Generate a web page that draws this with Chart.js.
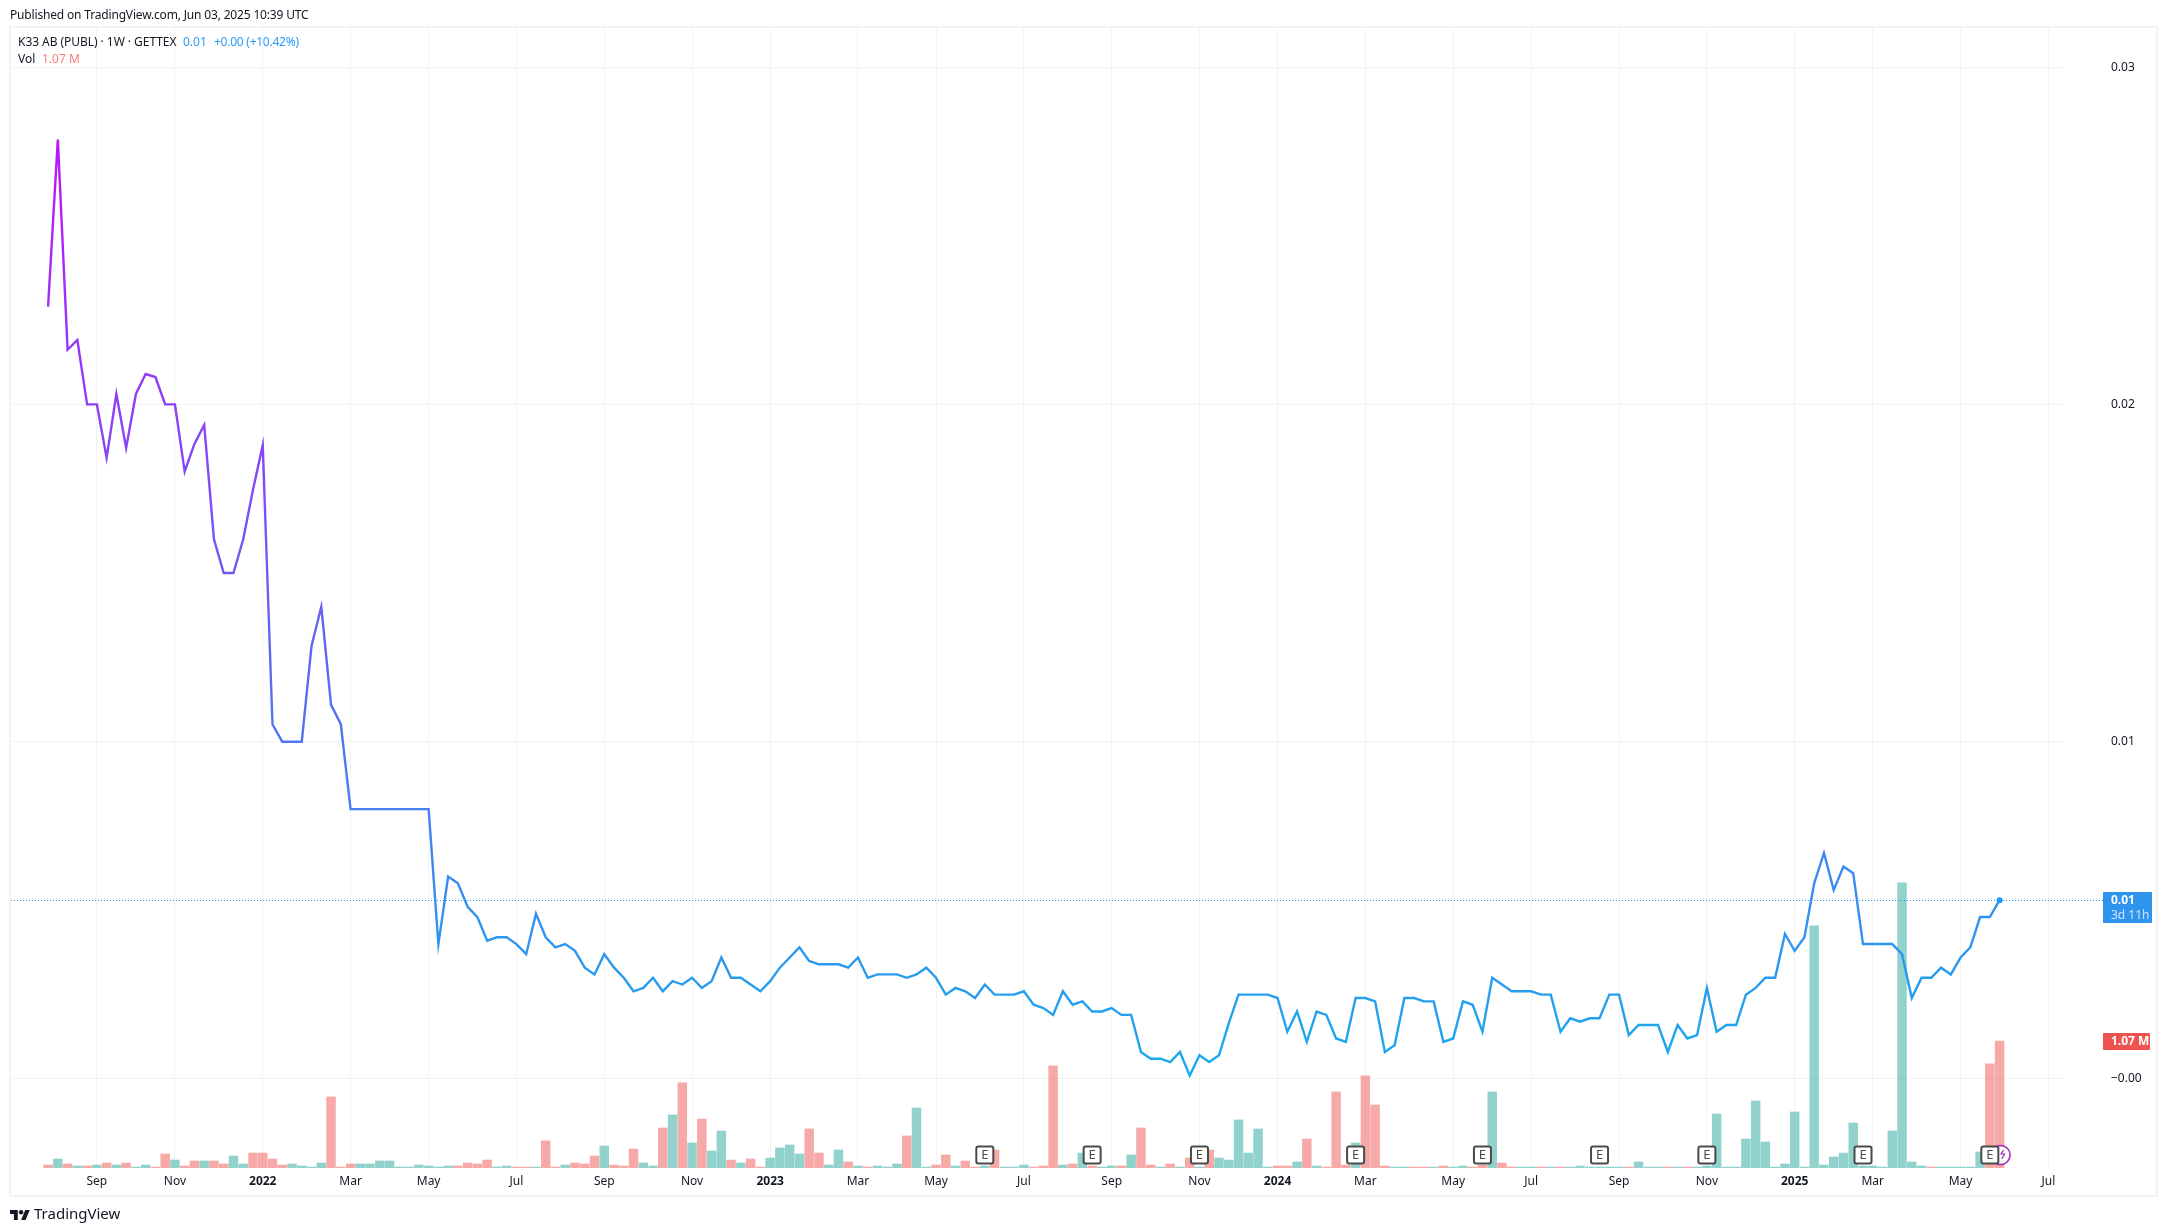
<!DOCTYPE html>
<html>
<head>
<meta charset="utf-8">
<title>K33 AB (PUBL)</title>
<script src="https://cdn.jsdelivr.net/npm/chart.js@4"></script>
<style>
  html, body { margin: 0; padding: 0; background: #fff; width: 2166px; height: 1231px; overflow: hidden; }
  body { position: relative; font-family: "Noto Sans", sans-serif; color: #131722; }
  canvas { position: absolute; left: 0; top: 0; }
  .frame { position: absolute; left: 9px; top: 26px; width: 2145px; height: 1167px; border: 2px solid #f3f3f3; }
  .txt { position: absolute; white-space: pre; font-size: 12px; line-height: 16px; }
  .blue { color: #2e9bf5; }
  .red { color: #f77c80; }
  .logo { position: absolute; left: 10px; top: 1207px; width: 20px; height: 14px; }
</style>
</head>
<body>
<div class="frame"></div>
<canvas id="main-graph" width="2166" height="1231"></canvas>
<div class="txt" style="left:10px;top:7px;letter-spacing:-0.17px">Published on TradingView.com, Jun 03, 2025 10:39 UTC</div>
<div class="txt" style="left:18px;top:34px;letter-spacing:-0.05px">K33 AB (PUBL) · 1W · GETTEX</div>
<div class="txt blue" style="left:183px;top:34px">0.01</div>
<div class="txt blue" style="left:214px;top:34px;letter-spacing:-0.25px">+0.00 (+10.42%)</div>
<div class="txt" style="left:18px;top:51px">Vol</div>
<div class="txt red" style="left:42px;top:51px">1.07 M</div>
<svg class="logo" viewBox="0 0 36 22"><path fill="#131722" d="M14 22H7V11H0V4h14v18zM28 22h-8l7.5-18h8L28 22z"/><circle fill="#131722" cx="20" cy="8" r="4"/></svg>
<div class="txt" style="left:34px;top:1204px;font-size:15px;line-height:18px">TradingView</div>
<script>
// weekly closes, Aug 2021 -> Jun 2025
const price = [
  0.0229, 0.02785, 0.02162, 0.02191, 0.0200, 0.0200, 0.01842, 0.02031, 0.01871, 0.02031,
  0.0209, 0.02081, 0.0200, 0.0200, 0.01801, 0.01883, 0.01939, 0.0160, 0.0150, 0.0150,
  0.0160, 0.01747, 0.01879, 0.01051, 0.0100, 0.0100, 0.0100, 0.01284, 0.0140, 0.01109,
  0.01052, 0.0080, 0.0080, 0.0080, 0.0080, 0.0080, 0.0080, 0.0080, 0.0080, 0.0080,
  0.0040, 0.0060, 0.0058, 0.0051, 0.0048, 0.0041, 0.0042, 0.0042, 0.0040, 0.0037,
  0.0049, 0.0042, 0.0039, 0.0040, 0.0038, 0.0033, 0.0031, 0.0037, 0.0033, 0.0030,
  0.0026, 0.0027, 0.0030, 0.0026, 0.0029, 0.0028, 0.0030, 0.0027, 0.0029, 0.0036,
  0.0030, 0.0030, 0.0028, 0.0026, 0.0029, 0.0033, 0.0036, 0.0039, 0.0035, 0.0034,
  0.0034, 0.0034, 0.0033, 0.0036, 0.0030, 0.0031, 0.0031, 0.0031, 0.0030, 0.0031,
  0.0033, 0.0030, 0.0025, 0.0027, 0.0026, 0.0024, 0.0028, 0.0025, 0.0025, 0.0025,
  0.0026, 0.0022, 0.0021, 0.0019, 0.0026, 0.0022, 0.0023, 0.0020, 0.0020, 0.0021,
  0.0019, 0.0019, 0.0008, 0.0006, 0.0006, 0.0005, 0.0008, 0.0001, 0.0007, 0.0005,
  0.0007, 0.00165, 0.0025, 0.0025, 0.0025, 0.0025, 0.0024, 0.0014, 0.0020, 0.0011,
  0.0020, 0.0019, 0.0012, 0.0011, 0.0024, 0.0024, 0.0023, 0.0008, 0.0010, 0.0024,
  0.0024, 0.0023, 0.0023, 0.0011, 0.0012, 0.0023, 0.0022, 0.0014, 0.0030, 0.0028,
  0.0026, 0.0026, 0.0026, 0.0025, 0.0025, 0.0014, 0.0018, 0.0017, 0.0018, 0.0018,
  0.0025, 0.0025, 0.0013, 0.0016, 0.0016, 0.0016, 0.0008, 0.0016, 0.0012, 0.0013,
  0.0027, 0.0014, 0.0016, 0.0016, 0.0025, 0.0027, 0.0030, 0.0030, 0.0043, 0.0038,
  0.0042, 0.0058, 0.0067, 0.0056, 0.0063, 0.0061, 0.0040, 0.0040, 0.0040, 0.0040,
  0.0037, 0.0024, 0.0030, 0.0030, 0.0033, 0.0031, 0.0036, 0.0039, 0.0048, 0.0048,
  0.0053
];

// volume in thousands
const volume = [
  25, 76, 34, 17, 17, 25, 42, 25, 42, 8,
  25, 8, 118, 67, 17, 59, 59, 59, 34, 101,
  34, 126, 126, 76, 25, 34, 17, 8, 42, 599,
  8, 34, 34, 34, 59, 59, 8, 8, 25, 17,
  8, 17, 17, 42, 34, 67, 8, 17, 8, 8,
  8, 228, 8, 25, 42, 34, 101, 185, 25, 17,
  160, 42, 17, 337, 447, 717, 211, 413, 143, 312,
  67, 42, 76, 8, 84, 169, 194, 118, 329, 126,
  25, 152, 51, 17, 8, 17, 8, 34, 270, 506,
  8, 25, 110, 17, 59, 8, 17, 152, 8, 8,
  25, 8, 17, 860, 25, 34, 126, 17, 8, 17,
  17, 110, 337, 25, 8, 34, 8, 84, 8, 152,
  84, 67, 405, 126, 329, 8, 17, 17, 51, 244,
  17, 8, 641, 25, 211, 776, 531, 17, 8, 8,
  8, 8, 8, 17, 8, 17, 8, 25, 641, 42,
  8, 8, 8, 8, 8, 8, 8, 17, 8, 8,
  8, 8, 8, 51, 8, 8, 8, 8, 8, 8,
  17, 455, 8, 8, 244, 565, 219, 8, 34, 472,
  8, 2040, 25, 93, 126, 379, 17, 17, 8, 312,
  2403, 51, 17, 8, 8, 8, 8, 8, 135, 877,
  1070
];

// 1 = green bar, 0 = red bar
const volumeUp = [
  0, 1, 0, 1, 0, 1, 0, 1, 0, 1,
  1, 0, 0, 1, 0, 0, 1, 0, 0, 1,
  1, 0, 0, 0, 0, 1, 1, 1, 1, 0,
  0, 0, 1, 1, 1, 1, 1, 1, 1, 1,
  1, 1, 0, 0, 0, 0, 1, 1, 0, 0,
  1, 0, 0, 1, 0, 0, 0, 1, 0, 0,
  0, 1, 1, 0, 1, 0, 1, 0, 1, 1,
  0, 1, 0, 0, 1, 1, 1, 1, 0, 0,
  1, 1, 0, 1, 0, 1, 1, 1, 0, 1,
  1, 0, 0, 1, 0, 0, 1, 0, 1, 1,
  1, 0, 0, 0, 1, 0, 1, 0, 1, 1,
  0, 1, 0, 0, 1, 0, 1, 0, 1, 0,
  1, 1, 1, 1, 1, 1, 0, 0, 1, 0,
  1, 0, 0, 0, 1, 0, 0, 0, 1, 1,
  0, 0, 1, 0, 1, 1, 0, 0, 1, 0,
  0, 1, 1, 0, 1, 0, 1, 1, 1, 1,
  1, 1, 0, 1, 1, 1, 0, 1, 0, 1,
  1, 1, 1, 1, 1, 1, 1, 1, 1, 1,
  1, 1, 1, 1, 1, 1, 1, 1, 1, 1,
  1, 1, 1, 0, 1, 1, 1, 1, 1, 0,
  0
];

// x axis: week number of the first bar of a month
const tickWeeks = [5, 13, 22, 31, 39, 48, 57, 66, 74, 83, 91, 100, 109, 118, 126, 135, 144, 152, 161, 170, 179, 187, 196, 205];
const tickLabels = ["Sep", "Nov", "2022", "Mar", "May", "Jul", "Sep", "Nov", "2023", "Mar", "May", "Jul", "Sep", "Nov", "2024", "Mar", "May", "Jul", "Sep", "Nov", "2025", "Mar", "May", "Jul"];
const priceTicks = [0, 0.01, 0.02, 0.03];
const priceTickLabels = ["−0.00", "0.01", "0.02", "0.03"];
const earningsWeeks = [96, 107, 118, 134, 147, 159, 170, 186, 199];

const FONT = "Noto Sans";
const GRID = "#f3f3f3";
const lastIdx = price.length - 1;

// countdown / price badges, dotted last price line and the E flags
const overlays = {
  id: "overlays",
  afterDatasetsDraw(chart) {
    const { ctx, chartArea, scales } = chart;
    const yLast = Math.round(scales.y.getPixelForValue(price[lastIdx])) + 0.5;
    const yVolLast = scales.yVol.getPixelForValue(volume[lastIdx]);
    const badgeX = chartArea.right + 39;
    ctx.save();

    // last price line
    ctx.strokeStyle = "#2196f3";
    ctx.lineWidth = 1;
    ctx.setLineDash([1, 2]);
    ctx.beginPath();
    ctx.moveTo(chartArea.left, yLast);
    ctx.lineTo(badgeX, yLast);
    ctx.stroke();
    ctx.setLineDash([]);

    // split marker sits under the last E
    const xEnd = scales.x.getPixelForValue(lastIdx);
    const yFlag = chartArea.bottom - 13;
    ctx.strokeStyle = "#9c27b0";
    ctx.lineWidth = 1.5;
    ctx.fillStyle = "#fff";
    ctx.beginPath();
    ctx.arc(xEnd + 1, yFlag, 9.5, 0, Math.PI * 2);
    ctx.fill();
    ctx.stroke();
    ctx.lineWidth = 1.2;
    ctx.beginPath();
    ctx.moveTo(xEnd + 4, yFlag - 5);
    ctx.lineTo(xEnd + 1.5, yFlag - 1);
    ctx.lineTo(xEnd + 5, yFlag - 1);
    ctx.lineTo(xEnd + 2, yFlag + 4);
    ctx.stroke();

    // earnings flags
    ctx.textAlign = "center";
    ctx.textBaseline = "middle";
    earningsWeeks.forEach((w) => {
      const x = scales.x.getPixelForValue(w);
      ctx.fillStyle = "#fff";
      ctx.strokeStyle = "#4a4a4a";
      ctx.lineWidth = 2;
      ctx.beginPath();
      ctx.roundRect(x - 8.5, yFlag - 8.5, 17, 17, 2);
      ctx.fill();
      ctx.stroke();
      ctx.fillStyle = "#4a4a4a";
      ctx.font = `13px ${FONT}`;
      ctx.fillText("E", x, yFlag + 0.5);
    });

    // price badge
    ctx.fillStyle = "#2f94ee";
    ctx.beginPath();
    ctx.roundRect(badgeX, yLast - 8.5, 49, 31, 1);
    ctx.fill();
    ctx.textAlign = "left";
    ctx.fillStyle = "#fff";
    ctx.font = `bold 12px ${FONT}`;
    ctx.fillText("0.01", badgeX + 8, yLast);
    ctx.fillStyle = "#cfe5fb";
    ctx.font = `12px ${FONT}`;
    ctx.fillText("3d 11h", badgeX + 8, yLast + 15);

    // volume badge
    ctx.fillStyle = "#ef5350";
    ctx.beginPath();
    ctx.roundRect(badgeX, yVolLast - 8, 47, 17, 1);
    ctx.fill();
    ctx.fillStyle = "#fff";
    ctx.font = `bold 12px ${FONT}`;
    ctx.fillText("1.07 M", badgeX + 8, yVolLast + 0.5);
    ctx.restore();
  }
};

function lineGradient(context) {
  const { chart } = context;
  if (!chart.chartArea) return "#2196f3";
  const y = chart.scales.y;
  const g = chart.ctx.createLinearGradient(0, y.getPixelForValue(Math.max(...price)), 0, y.getPixelForValue(Math.min(...price)));
  g.addColorStop(0, "#bc14fb");
  g.addColorStop(1, "#17abed");
  return g;
}

const chart = new Chart(document.getElementById("main-graph"), {
  data: {
    datasets: [
      {
        type: "line",
        data: price.map((v, i) => ({ x: i, y: v })),
        yAxisID: "y",
        borderColor: lineGradient,
        borderWidth: 2.4,
        tension: 0,
        fill: false,
        pointRadius: (c) => (c.dataIndex === lastIdx ? 3 : 0),
        pointBackgroundColor: "#2196f3",
        pointBorderWidth: 0,
        order: 0,
      },
      {
        type: "bar",
        data: volume.map((v, i) => ({ x: i, y: v })),
        yAxisID: "yVol",
        backgroundColor: volumeUp.map((u) => (u ? "rgba(38,166,154,0.5)" : "rgba(239,83,80,0.5)")),
        barThickness: 8.8,
        order: 1,
      },
    ],
  },
  plugins: [overlays],
  options: {
    responsive: false,
    animation: false,
    layout: { padding: { left: 11, top: 28, right: 0, bottom: 0 } },
    plugins: { legend: { display: false }, tooltip: { enabled: false } },
    scales: {
      x: {
        type: "linear",
        offset: false,
        min: -3.8,
        max: 206.6,
        grid: { color: GRID, drawTicks: false, lineWidth: 1, offset: false },
        border: { display: false },
        afterBuildTicks: (s) => { s.ticks = tickWeeks.map((v) => ({ value: v })); },
        afterFit: (s) => { s.height = 63; s.paddingLeft = 0; s.paddingRight = 0; },
        ticks: {
          autoSkip: false,
          maxRotation: 0,
          padding: 6,
          color: "#131722",
          font: (c) => ({
            family: FONT,
            size: 12,
            weight: c.tick && /^\d/.test(tickLabels[tickWeeks.indexOf(c.tick.value)]) ? "bold" : "normal",
          }),
          callback: (v) => tickLabels[tickWeeks.indexOf(v)],
        },
      },
      y: {
        position: "right",
        min: -0.00264,
        max: 0.03116,
        grid: { color: GRID, drawTicks: false, lineWidth: 1 },
        border: { display: false },
        afterBuildTicks: (s) => { s.ticks = priceTicks.map((v) => ({ value: v })); },
        afterFit: (s) => { s.width = 102; s.paddingTop = 0; s.paddingBottom = 0; },
        ticks: {
          padding: 47,
          color: "#131722",
          font: { family: FONT, size: 12 },
          callback: (v) => priceTickLabels[priceTicks.indexOf(v)],
        },
      },
      yVol: { display: false, min: 0, max: 9605 },
    },
  },
});
</script>
</body>
</html>
